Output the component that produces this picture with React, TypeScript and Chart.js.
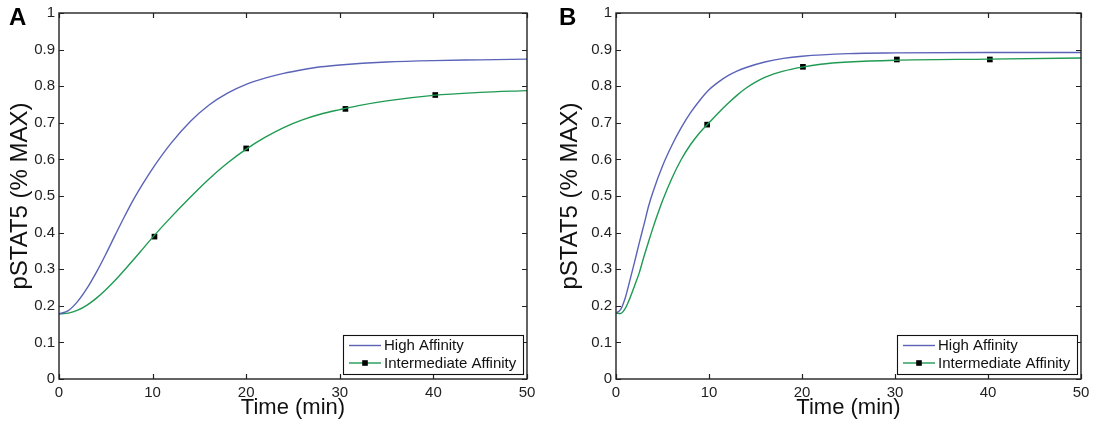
import React, { useEffect, useRef } from "react";
import { Chart, registerables } from "chart.js";

Chart.register(...registerables);

const FONT = "'Liberation Sans', Arial, Helvetica, sans-serif";
const BLUE = "#5a63b8";
const GREEN = "#1f9a52";

// Axis ticks
const xTicks = [0, 10, 20, 30, 40, 50];
const yTicks = [0, 0.1, 0.2, 0.3, 0.4, 0.5, 0.6, 0.7, 0.8, 0.9, 1];
const seriesNames = ["High Affinity", "Intermediate Affinity"];

// Panel A — High Affinity
const tAHigh = [0, 1, 2, 3, 4, 5, 6, 7, 8, 9, 10, 12, 14, 16, 18, 20, 22, 24, 26, 28, 30, 35, 40, 45, 50];
const vAHigh = [0.178, 0.187, 0.212, 0.248, 0.292, 0.341, 0.393, 0.444, 0.492, 0.535, 0.575, 0.645, 0.703, 0.748, 0.781, 0.805, 0.822, 0.835, 0.845, 0.853, 0.858, 0.866, 0.87, 0.872, 0.874];
// Panel A — Intermediate Affinity
const tAInt = [0, 1, 2, 3, 4, 5, 6, 7, 8, 9, 10, 12, 14, 16, 18, 20, 22, 24, 26, 28, 30, 32, 35, 40, 45, 50];
const vAInt = [0.178, 0.18, 0.188, 0.202, 0.221, 0.244, 0.27, 0.298, 0.327, 0.357, 0.387, 0.443, 0.496, 0.546, 0.59, 0.628, 0.66, 0.687, 0.708, 0.724, 0.736, 0.747, 0.76, 0.775, 0.783, 0.788];
// Panel A — markers on Intermediate Affinity
const tAMark = [10.2, 20, 30.6, 40.2];
const vAMark = [0.389, 0.63, 0.738, 0.776];

// Panel B — High Affinity
const tBHigh = [0, 0.5, 1, 1.5, 2, 2.5, 3, 3.5, 4, 5, 6, 7, 8, 9, 10, 11, 12, 13, 14, 16, 18, 20, 25, 30, 40, 50];
const vBHigh = [0.18, 0.19, 0.222, 0.27, 0.32, 0.372, 0.421, 0.472, 0.513, 0.582, 0.638, 0.686, 0.727, 0.761, 0.79, 0.811, 0.828, 0.841, 0.851, 0.866, 0.876, 0.882, 0.889, 0.891, 0.892, 0.892];
// Panel B — Intermediate Affinity
const tBInt = [0, 0.5, 1, 1.5, 2, 2.5, 3, 3.5, 4, 4.5, 5, 6, 7, 8, 9, 10, 11, 12, 13, 14, 15, 16, 18, 20, 22, 25, 30, 40, 50];
const vBInt = [0.18, 0.179, 0.193, 0.221, 0.255, 0.29, 0.334, 0.375, 0.415, 0.452, 0.487, 0.548, 0.599, 0.64, 0.673, 0.7, 0.727, 0.752, 0.775, 0.795, 0.811, 0.824, 0.841, 0.852, 0.86, 0.866, 0.871, 0.874, 0.877];
// Panel B — markers on Intermediate Affinity
const tBMark = [9.8, 20.1, 30.2, 40.2];
const vBMark = [0.695, 0.853, 0.873, 0.873];

const pts = (t: number[], v: number[]) => t.map((x, i) => ({ x, y: v[i] }));

const framePlugin = {
  id: "frame",
  afterDraw(chart: any, _args: any, opts: any) {
    const { ctx, chartArea } = chart;
    const { left, right, top, bottom } = chartArea;
    const xs = chart.scales.x;
    const ys = chart.scales.y;
    ctx.save();
    // ticks (inward, all four sides)
    ctx.strokeStyle = "#222";
    ctx.lineWidth = 1.2;
    ctx.beginPath();
    xTicks.forEach((v) => {
      const px = Math.round(xs.getPixelForValue(v)) + 0.5;
      ctx.moveTo(px, bottom);
      ctx.lineTo(px, bottom - 5);
      ctx.moveTo(px, top);
      ctx.lineTo(px, top + 5);
    });
    yTicks.forEach((v) => {
      const py = Math.round(ys.getPixelForValue(v)) + 0.5;
      ctx.moveTo(left, py);
      ctx.lineTo(left + 5, py);
      ctx.moveTo(right, py);
      ctx.lineTo(right - 5, py);
    });
    ctx.stroke();
    // frame
    ctx.lineWidth = 1.4;
    ctx.strokeRect(left, top, right - left, bottom - top);

    // legend box
    const bw = 180;
    const bh = 39;
    const bx = right - 4 - bw;
    const by = bottom - 5 - bh;
    ctx.fillStyle = "#fff";
    ctx.fillRect(bx, by, bw, bh);
    ctx.lineWidth = 1.1;
    ctx.strokeStyle = "#111";
    ctx.strokeRect(bx + 0.5, by + 0.5, bw, bh);
    const ds = chart.data.datasets;
    const rows = [by + 10.5, by + 28];
    ctx.font = `15px ${FONT}`;
    ctx.textBaseline = "middle";
    ctx.textAlign = "left";
    [0, 1].forEach((i) => {
      const y = rows[i];
      ctx.strokeStyle = ds[i].borderColor;
      ctx.lineWidth = 1.4;
      ctx.beginPath();
      ctx.moveTo(bx + 6, y);
      ctx.lineTo(bx + 38, y);
      ctx.stroke();
      if (i === 1) {
        ctx.fillStyle = "#000";
        ctx.fillRect(bx + 22 - 2.8, y - 2.8, 5.6, 5.6);
      }
      ctx.fillStyle = "#111";
      ctx.fillText(ds[i].label, bx + 41, y + 0.5);
    });

    // panel letter
    ctx.font = `bold 24px ${FONT}`;
    ctx.fillStyle = "#000";
    ctx.textBaseline = "alphabetic";
    ctx.fillText(opts.letter, 9, 25);
    ctx.restore();
  },
};

interface PanelProps {
  letter: string;
  tHigh: number[];
  vHigh: number[];
  tInt: number[];
  vInt: number[];
  tMark: number[];
  vMark: number[];
  width: number;
  yAxisWidth: number;
  rightPad: number;
}

function Panel(p: PanelProps) {
  const ref = useRef<HTMLCanvasElement>(null);
  useEffect(() => {
    if (!ref.current) return;
    const chart = new Chart(ref.current, {
      type: "line",
      data: {
        datasets: [
          {
            label: seriesNames[0],
            data: pts(p.tHigh, p.vHigh),
            borderColor: BLUE,
            borderWidth: 1.4,
            pointRadius: 0,
            cubicInterpolationMode: "monotone",
            fill: false,
          },
          {
            label: seriesNames[1],
            data: pts(p.tInt, p.vInt),
            borderColor: GREEN,
            borderWidth: 1.4,
            pointRadius: 0,
            cubicInterpolationMode: "monotone",
            fill: false,
          },
          {
            label: "markers",
            data: pts(p.tMark, p.vMark),
            showLine: false,
            pointStyle: "rect",
            pointRadius: 4,
            pointBackgroundColor: "#000",
            pointBorderColor: "#000",
            pointBorderWidth: 0,
          },
        ],
      } as any,
      options: {
        animation: false,
        responsive: false,
        layout: { padding: { top: 12, right: p.rightPad, left: 0, bottom: 0 } },
        plugins: {
          legend: { display: false },
          tooltip: { enabled: false },
          frame: { letter: p.letter },
        } as any,
        scales: {
          x: {
            type: "linear",
            min: 0,
            max: 50,
            afterBuildTicks: (s: any) => {
              s.ticks = xTicks.map((v) => ({ value: v }));
            },
            afterFit: (s: any) => {
              s.height = 47;
            },
            grid: { display: false, drawTicks: false, tickLength: 0 },
            border: { display: false },
            ticks: {
              color: "#222",
              font: { family: FONT, size: 15 },
              padding: 5,
              maxRotation: 0,
              autoSkip: false,
            },
            title: {
              display: true,
              text: "Time (min)",
              color: "#111",
              font: { family: FONT, size: 22 },
              padding: { top: 0, bottom: 5 },
            },
          },
          y: {
            type: "linear",
            min: 0,
            max: 1,
            afterBuildTicks: (s: any) => {
              s.ticks = yTicks.map((v) => ({ value: v }));
            },
            afterFit: (s: any) => {
              s.width = p.yAxisWidth;
            },
            grid: { display: false, drawTicks: false, tickLength: 0 },
            border: { display: false },
            ticks: {
              color: "#222",
              font: { family: FONT, size: 15 },
              padding: 4,
              autoSkip: false,
              callback: (v: any) => String(Math.round(Number(v) * 10) / 10),
            },
            title: {
              display: true,
              text: "pSTAT5 (% MAX)",
              color: "#111",
              font: { family: FONT, size: 24 },
              padding: { top: 6, bottom: 0 },
            },
          },
        },
      } as any,
      plugins: [framePlugin],
    });
    return () => chart.destroy();
  }, []);
  return <canvas ref={ref} width={p.width} height={426} style={{ display: "block" }} />;
}

export default function App() {
  return (
    <div style={{ position: "absolute", left: 0, top: 0, width: 1101, height: 426, background: "#fff" }}>
      <div style={{ position: "absolute", left: 0, top: 0 }}>
        <Panel letter="A" tHigh={tAHigh} vHigh={vAHigh} tInt={tAInt} vInt={vAInt} tMark={tAMark} vMark={vAMark} width={550} yAxisWidth={59} rightPad={23} />
      </div>
      <div style={{ position: "absolute", left: 550, top: 0 }}>
        <Panel letter="B" tHigh={tBHigh} vHigh={vBHigh} tInt={tBInt} vInt={vBInt} tMark={tBMark} vMark={vBMark} width={551} yAxisWidth={66} rightPad={20} />
      </div>
    </div>
  );
}
